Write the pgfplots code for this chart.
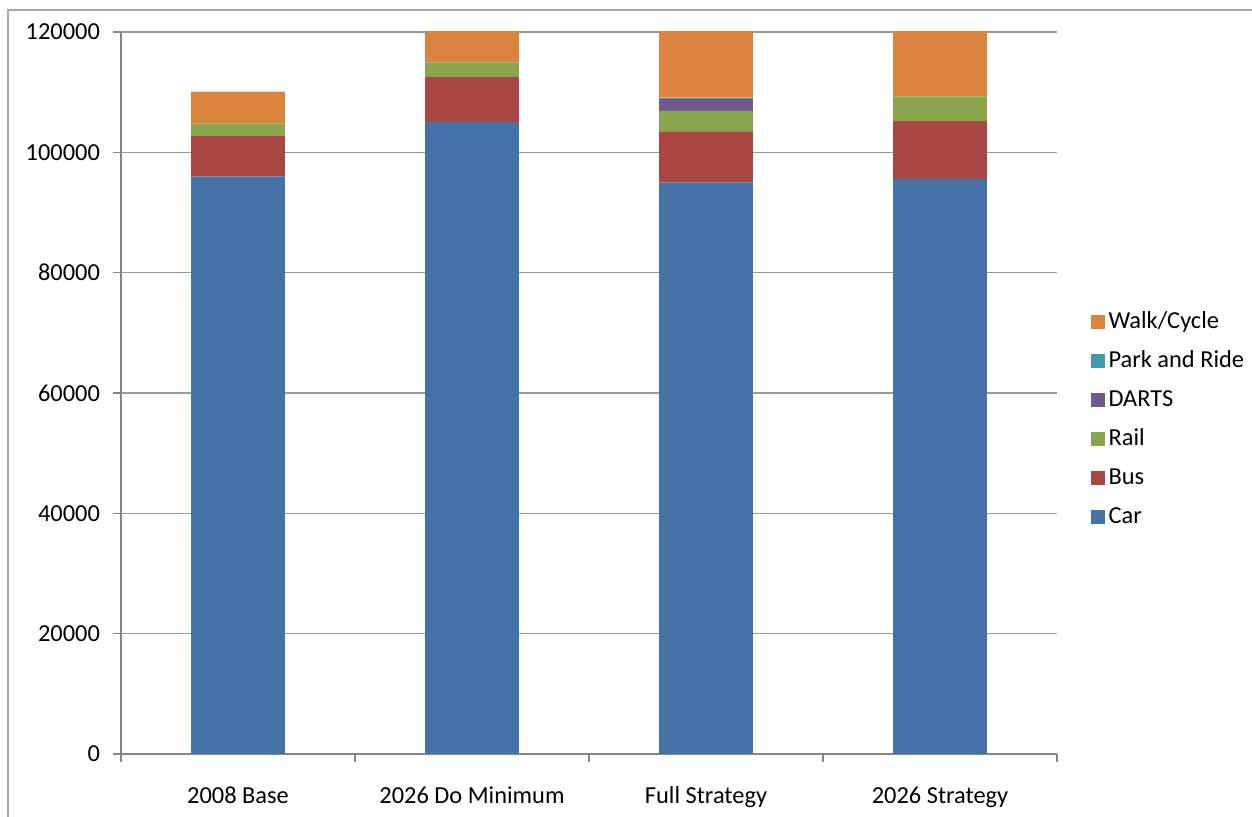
\documentclass[border=0pt]{standalone}
\usepackage{pgfplots}
\pgfplotsset{compat=1.18}
\usepackage{fontspec}
\setmainfont{Carlito}

\definecolor{carC}{HTML}{4572A7}
\definecolor{busC}{HTML}{AA4643}
\definecolor{railC}{HTML}{89A54E}
\definecolor{dartsC}{HTML}{71588F}
\definecolor{prC}{HTML}{4198AF}
\definecolor{walkC}{HTML}{DB843D}
\definecolor{axisgray}{HTML}{868686}
\definecolor{gridgray}{HTML}{9A9A9A}
\definecolor{framegray}{HTML}{A8A8A8}

\begin{document}
\begin{tikzpicture}[x=1pt,y=1pt]
\useasboundingbox (0,0) rectangle (626,408.5);
\begin{axis}[
  at={(60.5pt,31.5pt)}, anchor=south west,
  scale only axis, width=468pt, height=361pt,
  xmin=-0.5, xmax=3.5, ymin=0, ymax=120000,
  ybar stacked, bar width=0.4,
  axis lines=left,
  axis line style={draw=axisgray, line width=0.8pt, -},
  xtick={0,1,2,3},
  xticklabels={2008 Base, 2026 Do Minimum, Full Strategy, 2026 Strategy},
  major x tick style={draw=none},
  minor xtick={-0.5,0.5,1.5,2.5,3.5},
  ytick={0,20000,40000,60000,80000,100000,120000},
  yticklabels={0,20000,40000,60000,80000,100000,120000},
  scaled y ticks=false,
  ymajorgrids,
  grid style={draw=gridgray, line width=0.8pt},
  tick align=outside,
  major tick length=4pt, minor tick length=4pt,
  tick style={draw=axisgray, line width=0.8pt},
  ticklabel style={font=\fontsize{12.2}{14}\selectfont, text=black},
  yticklabel style={xshift=-3pt},
  xticklabel style={yshift=-8.5pt, text height=8.5pt, text depth=2.5pt},
  reverse legend,
  legend cell align=left,
  legend style={draw=none, fill=none, at={(1.029,0.463)}, anchor=west,
    font=\fontsize{12.2}{14}\selectfont, row sep=4.5pt,
    nodes={text height=8.5pt, text depth=2.5pt}},
  legend image code/.code={\fill[#1,draw=none] (0pt,-3.5pt) rectangle (7pt,3.5pt);},
  every axis plot/.append style={draw=none},
]
\addplot[fill=carC] coordinates {(0,96000) (1,105000) (2,95000) (3,95600)};
\addlegendentry{Car}
\addplot[fill=busC] coordinates {(0,6700) (1,7500) (2,8500) (3,9600)};
\addlegendentry{Bus}
\addplot[fill=railC] coordinates {(0,2100) (1,2400) (2,3400) (3,4100)};
\addlegendentry{Rail}
\addplot[fill=dartsC] coordinates {(0,0) (1,0) (2,1900) (3,0)};
\addlegendentry{DARTS}
\addplot[fill=prC] coordinates {(0,0) (1,0) (2,300) (3,0)};
\addlegendentry{Park and Ride}
\addplot[fill=walkC] coordinates {(0,5300) (1,6000) (2,12000) (3,12000)};
\addlegendentry{Walk/Cycle}
\end{axis}
% outer chart frame, left and top edges
\draw[framegray, line width=1pt] (4,0) -- (4,403.5) -- (626,403.5);
\end{tikzpicture}
\end{document}
